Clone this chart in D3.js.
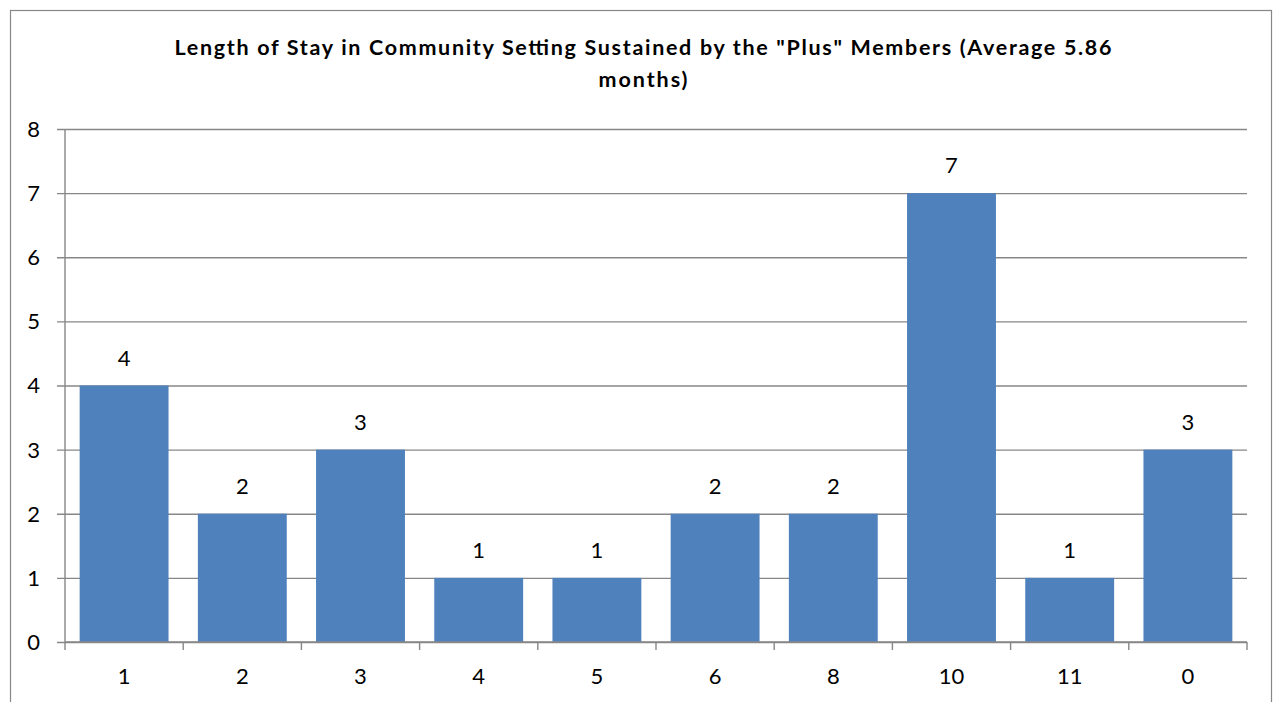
<!DOCTYPE html>
<html>
<head>
<meta charset="utf-8">
<script src="https://cdn.jsdelivr.net/npm/d3@7"></script>
<style>
  html, body { margin: 0; padding: 0; background: #fff; }
  svg { display: block; }
  text { font-family: Lato, "Open Sans", sans-serif; fill: #000; }
</style>
</head>
<body>
<script>
// Months in community setting and number of members for each
const categories = ["1", "2", "3", "4", "5", "6", "8", "10", "11", "0"];
const members = [4, 2, 3, 1, 1, 2, 2, 7, 1, 3];
const yTicks = [0, 1, 2, 3, 4, 5, 6, 7, 8];
const titleLines = [
  "Length of Stay in Community Setting Sustained by the \"Plus\" Members (Average 5.86",
  "months)"
];
const titleWidths = [937, 89];

const width = 1276, height = 702;
const plot = { left: 65, right: 1247, top: 129, bottom: 642 };
const gridColor = "#878787";
const barColor = "#4F81BD";

const svg = d3.select("body").append("svg")
  .attr("width", width)
  .attr("height", height);

// Chart frame
svg.append("rect")
  .attr("x", 10.5).attr("y", 10.5)
  .attr("width", 1261).attr("height", 720)
  .attr("fill", "#fff")
  .attr("stroke", gridColor)
  .attr("stroke-width", 1.2);

// Title, each line spread to its set width
const title = svg.append("text")
  .attr("text-anchor", "middle")
  .attr("font-weight", "bold")
  .attr("font-size", 21.5);
title.selectAll("tspan")
  .data(titleLines)
  .join("tspan")
  .attr("x", 643)
  .attr("y", (d, i) => 55 + i * 32)
  .attr("textLength", (d, i) => titleWidths[i])
  .attr("lengthAdjust", "spacing")
  .text(d => d);

const x = d3.scaleBand()
  .domain(categories)
  .range([plot.left, plot.right])
  .paddingInner(0.248)
  .paddingOuter(0.124);

const xEdge = d3.scaleBand()
  .domain(categories)
  .range([plot.left, plot.right]);

const y = d3.scaleLinear()
  .domain([0, 8])
  .range([plot.bottom, plot.top]);

// Horizontal gridlines with short ticks left of the axis
svg.append("g")
  .attr("transform", `translate(${plot.left},0)`)
  .call(d3.axisLeft(y)
    .tickValues(yTicks)
    .tickSize(-(plot.right - plot.left))
    .tickFormat(""))
  .call(g => g.select(".domain").remove())
  .call(g => g.selectAll(".tick line")
    .attr("x1", -8)
    .attr("stroke", gridColor)
    .attr("stroke-width", 1.4));

// Y tick labels
svg.append("g")
  .selectAll("text")
  .data(yTicks)
  .join("text")
  .attr("x", 40)
  .attr("y", d => y(d))
  .attr("dy", "0.36em")
  .attr("text-anchor", "end")
  .attr("font-size", 22)
  .text(d => d);

// Bars
svg.append("g")
  .selectAll("rect")
  .data(members)
  .join("rect")
  .attr("x", (d, i) => x(categories[i]))
  .attr("y", d => y(d))
  .attr("width", x.bandwidth())
  .attr("height", d => y(0) - y(d))
  .attr("fill", barColor);

// Value labels above bars
svg.append("g")
  .selectAll("text")
  .data(members)
  .join("text")
  .attr("x", (d, i) => x(categories[i]) + x.bandwidth() / 2)
  .attr("y", d => y(d) - 20)
  .attr("text-anchor", "middle")
  .attr("font-size", 22)
  .text(d => d);

// Y axis line
svg.append("line")
  .attr("x1", plot.left).attr("x2", plot.left)
  .attr("y1", plot.top).attr("y2", plot.bottom)
  .attr("stroke", gridColor)
  .attr("stroke-width", 1.4);

// X axis line with category boundary ticks
const boundaries = categories.map(c => xEdge(c)).concat([plot.right]);
svg.append("line")
  .attr("x1", plot.left).attr("x2", plot.right)
  .attr("y1", plot.bottom).attr("y2", plot.bottom)
  .attr("stroke", gridColor)
  .attr("stroke-width", 1.4);
svg.append("g")
  .selectAll("line")
  .data(boundaries)
  .join("line")
  .attr("x1", d => d).attr("x2", d => d)
  .attr("y1", plot.bottom).attr("y2", plot.bottom + 8)
  .attr("stroke", gridColor)
  .attr("stroke-width", 1.4);

// X tick labels
svg.append("g")
  .selectAll("text")
  .data(categories)
  .join("text")
  .attr("x", d => xEdge(d) + xEdge.bandwidth() / 2)
  .attr("y", 684)
  .attr("text-anchor", "middle")
  .attr("font-size", 22)
  .text(d => d);
</script>
</body>
</html>
